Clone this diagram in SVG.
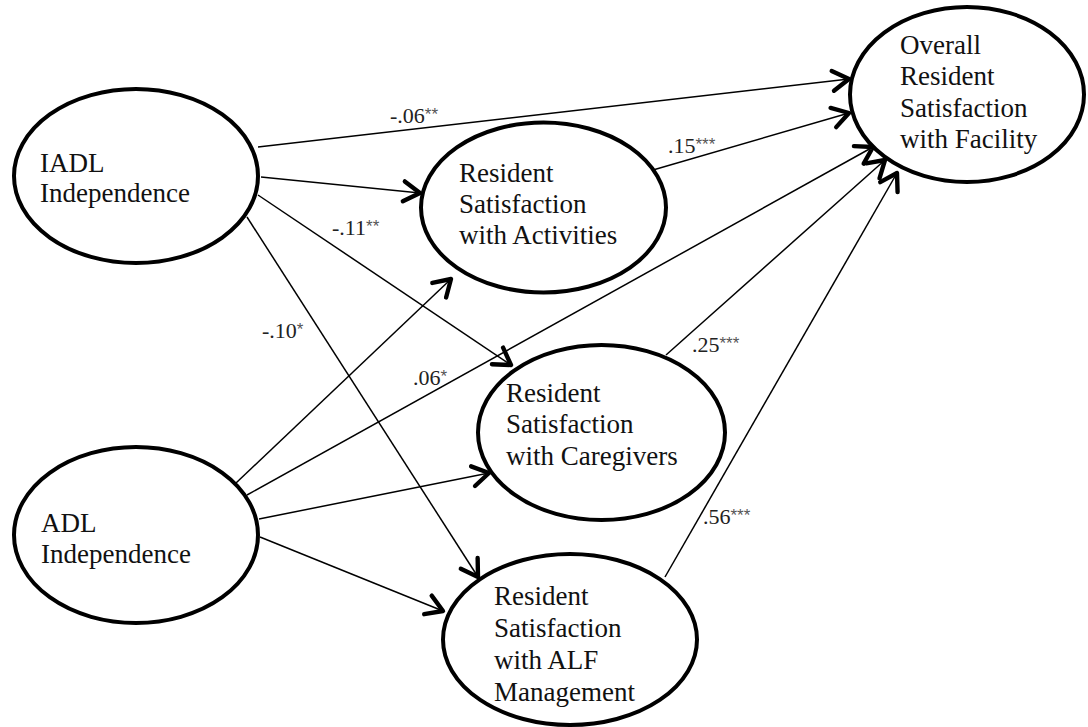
<svg xmlns="http://www.w3.org/2000/svg" width="1088" height="727" viewBox="0 0 1088 727">
<style>
.node ellipse{fill:#fff;stroke:#000;stroke-width:4}
.node text{font-family:"Liberation Serif","Times New Roman",serif;font-size:27px;fill:#111}
.edge line{stroke:#000;stroke-width:1.5;fill:none}
.lbl{font-family:"Liberation Serif","Times New Roman",serif;font-size:22px;fill:#222}
.st{font-family:"Liberation Sans",Arial,sans-serif;font-size:17px;fill:#555}
</style>
<defs>
<marker id="arr" markerUnits="userSpaceOnUse" markerWidth="30" markerHeight="30" refX="0" refY="0" viewBox="-16 -12 20 24" orient="auto" overflow="visible">
<path d="M-13,-8 L0,0 L-13,8" fill="none" stroke="#000" stroke-width="3.5" stroke-linecap="round" stroke-linejoin="round"/>
</marker>
</defs>
<rect width="1088" height="727" fill="#fff"/>
<g id="connectors" class="edge">
<line x1="258" y1="147" x2="849" y2="79" marker-end="url(#arr)"/>
<line x1="653" y1="170" x2="849" y2="113" marker-end="url(#arr)"/>
<line x1="261" y1="177" x2="420" y2="193" marker-end="url(#arr)"/>
<line x1="258" y1="195" x2="511" y2="365" marker-end="url(#arr)"/>
<line x1="247" y1="217" x2="478" y2="577" marker-end="url(#arr)"/>
<line x1="236" y1="483" x2="451" y2="279" marker-end="url(#arr)"/>
<line x1="247" y1="495" x2="873" y2="147" marker-end="url(#arr)"/>
<line x1="259" y1="519" x2="489" y2="473" marker-end="url(#arr)"/>
<line x1="260" y1="537" x2="443" y2="611" marker-end="url(#arr)"/>
<line x1="666" y1="355" x2="885" y2="160" marker-end="url(#arr)"/>
<line x1="665" y1="577" x2="897" y2="173" marker-end="url(#arr)"/>
</g>
<g id="labels">
<text class="lbl" x="390" y="123">-.06<tspan class="st" dy="-3">**</tspan></text>
<text class="lbl" x="668" y="153">.15<tspan class="st" dy="-3">***</tspan></text>
<text class="lbl" x="332" y="235">-.11<tspan class="st" dy="-3">**</tspan></text>
<text class="lbl" x="262" y="338">-.10<tspan class="st" dy="-3">*</tspan></text>
<text class="lbl" x="413" y="385">.06<tspan class="st" dy="-3">*</tspan></text>
<text class="lbl" x="692" y="352">.25<tspan class="st" dy="-3">***</tspan></text>
<text class="lbl" x="703" y="524">.56<tspan class="st" dy="-3">***</tspan></text>
</g>
<g id="iadl" class="node">
<ellipse cx="136" cy="176" rx="122" ry="87"/>
<text x="40" y="172">IADL</text>
<text x="40" y="202">Independence</text>
</g>
<g id="adl" class="node">
<ellipse cx="136" cy="535" rx="122" ry="88"/>
<text x="41" y="532">ADL</text>
<text x="41" y="563">Independence</text>
</g>
<g id="overall" class="node">
<ellipse cx="967" cy="94.5" rx="117" ry="87.5"/>
<text x="900" y="54">Overall</text>
<text x="900" y="85">Resident</text>
<text x="900" y="117">Satisfaction</text>
<text x="900" y="148">with Facility</text>
</g>
<g id="activities" class="node">
<ellipse cx="543.5" cy="207.5" rx="122.5" ry="85"/>
<text x="459" y="182">Resident</text>
<text x="459" y="213">Satisfaction</text>
<text x="459" y="244">with Activities</text>
</g>
<g id="caregivers" class="node">
<ellipse cx="601.5" cy="432.5" rx="123.5" ry="87.5"/>
<text x="506" y="402">Resident</text>
<text x="506" y="433">Satisfaction</text>
<text x="506" y="465">with Caregivers</text>
</g>
<g id="alf" class="node">
<ellipse cx="570" cy="639.5" rx="127" ry="85.5"/>
<text x="494" y="605">Resident</text>
<text x="494" y="637">Satisfaction</text>
<text x="494" y="669">with ALF</text>
<text x="494" y="701">Management</text>
</g>
</svg>
